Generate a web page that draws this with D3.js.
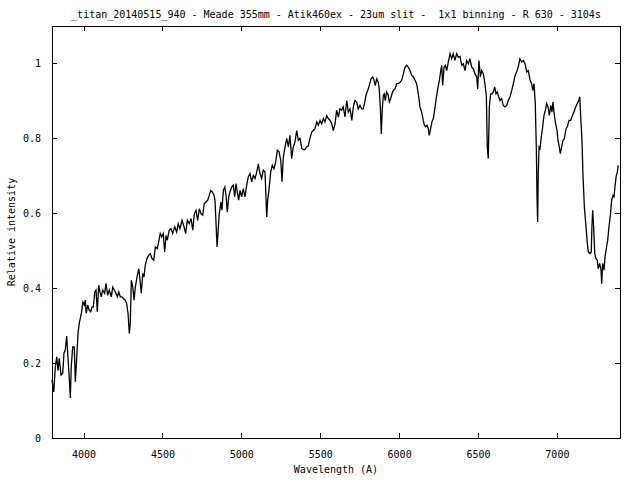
<!DOCTYPE html>
<html>
<head>
<meta charset="utf-8">
<script src="https://cdn.jsdelivr.net/npm/d3@7"></script>
<style>
html,body{margin:0;padding:0;background:#fff;}
svg text{font-family:"DejaVu Sans Mono",monospace;font-size:10px;fill:#000;white-space:pre;}
</style>
</head>
<body>
<svg id="chart" width="640" height="480"></svg>
<script>
const titleText = "_titan_20140515_940 - Meade 355mm - Atik460ex - 23um slit -  1x1 binning - R 630 - 3104s";
const xLabel = "Wavelength (A)";
const yLabel = "Relative intensity";
const xTicks = [4000, 4500, 5000, 5500, 6000, 6500, 7000];
const yTicks = [0, 0.2, 0.4, 0.6, 0.8, 1];
const yTickLabels = ["0", "0.2", "0.4", "0.6", "0.8", "1"];

const wavelength = [
3800,3811,3821,3830,3838,3846,3857,3868,3876,3884,3893,3901,3910,3916,3922,3931,3941,3948,3957,3965,
3973,3986,3996,4005,4011,4017,4026,4036,4045,4054,4062,4071,4079,4087,4096,4104,4112,4121,4134,4142,
4153,4163,4176,4185,4195,4206,4214,4223,4233,4244,4254,4265,4273,4282,4290,4296,4303,4312,4320,4328,
4339,4350,4358,4366,4375,4383,4391,4402,4413,4423,4434,4445,4455,4467,4476,4486,4495,4505,4514,4523,
4531,4543,4554,4565,4578,4590,4600,4611,4624,4637,4647,4658,4670,4681,4692,4702,4713,4723,4734,4744,
4755,4765,4776,4787,4797,4806,4816,4827,4833,4839,4846,4852,4860,4871,4877,4886,4895,4903,4911,4920,
4928,4939,4949,4958,4966,4974,4983,4992,5002,5012,5023,5034,5044,5055,5066,5076,5087,5097,5108,5118,
5129,5139,5150,5156,5161,5167,5175,5186,5196,5207,5218,5228,5239,5250,5258,5266,5277,5288,5298,5308,
5319,5329,5340,5351,5361,5372,5383,5393,5403,5414,5424,5435,5446,5456,5467,5478,5488,5499,5509,5520,
5530,5541,5551,5562,5573,5583,5594,5604,5615,5625,5636,5646,5657,5668,5678,5689,5700,5710,5720,5731,
5741,5752,5763,5773,5784,5790,5801,5811,5822,5833,5841,5849,5858,5868,5874,5881,5887,5893,5900,5906,
5912,5921,5931,5938,5947,5955,5963,5974,5985,5995,6006,6016,6027,6037,6048,6058,6069,6080,6090,6101,
6111,6118,6126,6132,6139,6145,6153,6160,6169,6177,6185,6191,6200,6208,6217,6228,6238,6247,6255,6264,
6270,6276,6285,6293,6302,6312,6323,6333,6343,6354,6365,6375,6386,6397,6407,6418,6428,6439,6449,6460,
6470,6481,6492,6498,6506,6515,6523,6534,6544,6553,6559,6565,6572,6580,6589,6597,6606,6614,6622,6631,
6639,6650,6660,6671,6682,6692,6703,6714,6724,6735,6745,6755,6766,6777,6787,6798,6809,6819,6830,6840,
6847,6855,6863,6870,6874,6878,6882,6887,6893,6901,6910,6918,6927,6935,6944,6952,6961,6969,6975,6984,
6992,7001,7007,7015,7022,7030,7039,7047,7058,7066,7077,7087,7098,7108,7119,7129,7138,7145,7151,7159,
7165,7174,7183,7191,7199,7210,7218,7222,7227,7233,7240,7248,7256,7262,7271,7280,7284,7290,7299,7305,
7313,7322,7330,7339,7347,7356,7362,7368,7375,7383,7389
];
const intensity = [
0.155,0.123,0.190,0.217,0.180,0.213,0.168,0.173,0.227,0.235,0.272,0.217,0.155,0.107,0.190,0.243,0.243,0.150,0.217,0.280,
0.307,0.333,0.363,0.355,0.368,0.333,0.355,0.341,0.337,0.350,0.350,0.390,0.395,0.337,0.408,0.390,0.377,0.395,0.386,0.413,
0.381,0.395,0.377,0.403,0.395,0.386,0.377,0.390,0.377,0.377,0.372,0.368,0.359,0.333,0.279,0.306,0.421,0.403,0.368,0.403,
0.430,0.452,0.421,0.386,0.439,0.430,0.461,0.479,0.488,0.492,0.479,0.475,0.510,0.506,0.523,0.546,0.537,0.546,0.497,0.541,
0.528,0.555,0.559,0.546,0.564,0.550,0.572,0.559,0.581,0.564,0.546,0.581,0.572,0.586,0.555,0.599,0.608,0.581,0.612,0.599,
0.595,0.626,0.630,0.635,0.648,0.661,0.657,0.648,0.635,0.581,0.510,0.546,0.599,0.630,0.608,0.661,0.670,0.648,0.603,0.644,
0.657,0.670,0.675,0.644,0.679,0.657,0.635,0.661,0.644,0.666,0.644,0.675,0.697,0.706,0.684,0.701,0.693,0.710,0.732,0.706,
0.693,0.715,0.710,0.644,0.590,0.635,0.661,0.710,0.728,0.719,0.737,0.768,0.764,0.741,0.684,0.750,0.777,0.800,0.777,0.808,
0.746,0.777,0.790,0.821,0.795,0.800,0.773,0.770,0.770,0.777,0.780,0.800,0.817,0.821,0.826,0.844,0.835,0.848,0.839,0.853,
0.844,0.861,0.853,0.848,0.839,0.821,0.839,0.875,0.857,0.879,0.875,0.884,0.857,0.901,0.870,0.879,0.848,0.884,0.901,0.897,
0.879,0.888,0.879,0.879,0.901,0.915,0.928,0.941,0.959,0.964,0.955,0.941,0.959,0.950,0.932,0.884,0.812,0.875,0.915,0.919,
0.901,0.924,0.915,0.897,0.906,0.919,0.928,0.932,0.946,0.946,0.950,0.955,0.972,0.990,0.995,0.990,0.981,0.968,0.964,0.955,
0.946,0.928,0.906,0.884,0.875,0.866,0.848,0.835,0.831,0.835,0.826,0.808,0.826,0.844,0.853,0.884,0.915,0.937,0.955,0.981,
0.995,0.941,0.990,0.995,0.981,1.004,1.026,1.013,1.026,1.008,1.026,1.017,1.019,0.995,0.999,0.981,1.008,0.999,1.013,0.990,
0.986,0.972,0.964,0.932,1.008,0.964,0.981,0.972,0.946,0.911,0.777,0.746,0.884,0.919,0.919,0.924,0.937,0.919,0.924,0.911,
0.901,0.906,0.888,0.884,0.888,0.901,0.911,0.928,0.946,0.968,0.977,0.990,1.013,1.004,1.008,0.999,0.977,0.981,0.955,0.946,
0.928,0.946,0.893,0.768,0.644,0.577,0.706,0.777,0.773,0.804,0.831,0.861,0.875,0.893,0.884,0.861,0.888,0.870,0.897,0.861,
0.839,0.821,0.795,0.777,0.759,0.777,0.795,0.799,0.826,0.831,0.848,0.848,0.861,0.870,0.884,0.893,0.901,0.911,0.857,0.795,
0.706,0.617,0.572,0.528,0.497,0.492,0.497,0.564,0.608,0.564,0.492,0.479,0.475,0.452,0.466,0.448,0.412,0.466,0.448,0.483,
0.506,0.528,0.564,0.595,0.635,0.648,0.644,0.670,0.697,0.710,0.728
];

const W = 640, H = 480;
const m = {left: 52, right: 20, top: 26, bottom: 42};
const svg = d3.select("#chart");

const x = d3.scaleLinear().domain([3800, 7400]).range([m.left, W - m.right]);
const y = d3.scaleLinear().domain([0, 1.1]).range([H - m.bottom, m.top]);
const tickLen = 5;

// data line
const data = wavelength.map((w, i) => [w, intensity[i]]);
svg.append("path")
  .datum(data)
  .attr("fill", "none")
  .attr("stroke", "#000")
  .attr("stroke-width", 1.3)
  .attr("stroke-linejoin", "miter")
  .attr("d", d3.line().x(d => x(d[0])).y(d => y(d[1])));

// axes with inward ticks
const gB = svg.append("g").attr("transform", `translate(0,${H - m.bottom})`)
  .call(d3.axisBottom(x).tickValues(xTicks).tickSizeInner(-tickLen).tickSizeOuter(0).tickPadding(tickLen + 8).tickFormat(d3.format("d")));
const gT = svg.append("g").attr("transform", `translate(0,${m.top})`)
  .call(d3.axisTop(x).tickValues(xTicks).tickSizeInner(-tickLen).tickSizeOuter(0).tickFormat(""));
const gL = svg.append("g").attr("transform", `translate(${m.left},0)`)
  .call(d3.axisLeft(y).tickValues(yTicks).tickSizeInner(-tickLen).tickSizeOuter(0).tickPadding(tickLen + 6).tickFormat((d, i) => yTickLabels[i]));
const gR = svg.append("g").attr("transform", `translate(${W - m.right},0)`)
  .call(d3.axisRight(y).tickValues(yTicks).tickSizeInner(-tickLen).tickSizeOuter(0).tickFormat(""));

[gB, gT, gL, gR].forEach(g => {
  g.select(".domain").remove();
  g.selectAll("line").attr("stroke", "#000").attr("shape-rendering", "crispEdges");
  g.selectAll("text").attr("font-family", "DejaVu Sans Mono, monospace").attr("font-size", 10).attr("fill", "#000");
});

// frame
svg.append("rect")
  .attr("x", m.left).attr("y", m.top)
  .attr("width", W - m.left - m.right).attr("height", H - m.top - m.bottom)
  .attr("fill", "none").attr("stroke", "#000").attr("stroke-width", 1)
  .attr("shape-rendering", "crispEdges");

// title
svg.append("text")
  .attr("x", (m.left + W - m.right) / 2).attr("y", 18)
  .attr("text-anchor", "middle")
  .text(titleText);

// x label
svg.append("text")
  .attr("x", (m.left + W - m.right) / 2).attr("y", 473)
  .attr("text-anchor", "middle")
  .text(xLabel);

// y label
svg.append("text")
  .attr("transform", `translate(15,${(m.top + H - m.bottom) / 2}) rotate(-90)`)
  .attr("text-anchor", "middle")
  .text(yLabel);
</script>
</body>
</html>
